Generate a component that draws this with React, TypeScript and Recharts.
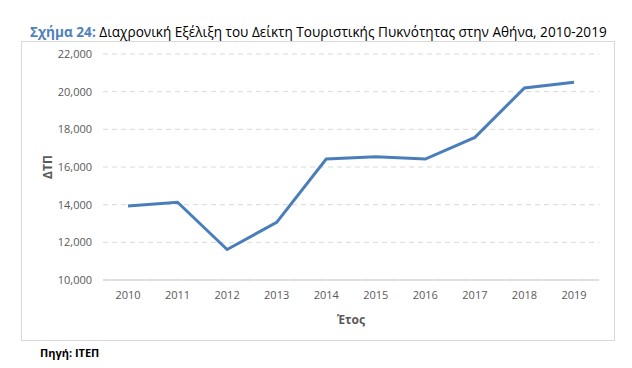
import { LineChart, Line, XAxis, YAxis, CartesianGrid } from "recharts";

const years = ["2010", "2011", "2012", "2013", "2014", "2015", "2016", "2017", "2018", "2019"];
const dtpValues = [13930, 14130, 11620, 13060, 16420, 16540, 16420, 17570, 20200, 20500];
const yTicks = [10000, 12000, 14000, 16000, 18000, 20000, 22000];

const chartData = years.map((year, i) => ({ year, dtp: dtpValues[i] }));

const font = "'Open Sans', 'Noto Sans', sans-serif";

const App = () => {
  return (
    <div style={{ position: "absolute", left: 0, top: 0, width: 632, height: 368, background: "#fff", fontFamily: font }}>
      <div style={{ position: "absolute", left: 30, top: 22, fontSize: 13.6, whiteSpace: "nowrap", color: "#000" }}>
        <span style={{ color: "#4F81BD", fontWeight: 700 }}>Σχήμα 24:</span> Διαχρονική Εξέλιξη του Δείκτη Τουριστικής Πυκνότητας στην Αθήνα, 2010-2019
      </div>
      <div style={{ position: "absolute", left: 21, top: 41, width: 592, height: 298, border: "1px solid #d9d9d9" }}>
        <LineChart width={592} height={298} data={chartData} margin={{ top: 12, right: 15, left: 0, bottom: 0 }}>
          <CartesianGrid vertical={false} stroke="#d9d9d9" strokeDasharray="5 4" />
          <XAxis
            dataKey="year"
            height={60}
            padding={{ left: 25, right: 25 }}
            tickSize={0}
            tickMargin={11}
            axisLine={{ stroke: "#d9d9d9", strokeWidth: 1.5 }}
            tick={{ fill: "#595959", fontSize: 11, fontFamily: font }}
            label={{ value: "Έτος", position: "insideBottom", offset: 16, fill: "#595959", fontSize: 12, fontWeight: 700, fontFamily: font }}
          />
          <YAxis
            width={81}
            domain={[10000, 22000]}
            ticks={yTicks}
            tickSize={0}
            tickMargin={11}
            axisLine={false}
            tickFormatter={(v: number) => v.toLocaleString("en-US")}
            tick={{ fill: "#595959", fontSize: 11, fontFamily: font }}
            label={{ value: "ΔΤΠ", angle: -90, position: "center", dx: -15, fill: "#595959", fontSize: 12, fontWeight: 700, fontFamily: font }}
          />
          <Line type="linear" dataKey="dtp" stroke="#4A7EBB" strokeWidth={3} dot={false} isAnimationActive={false} />
        </LineChart>
      </div>
      <div style={{ position: "absolute", left: 40, top: 345, fontSize: 11, fontWeight: 700, color: "#000" }}>
        Πηγή: ΙΤΕΠ
      </div>
    </div>
  );
};

export default App;
